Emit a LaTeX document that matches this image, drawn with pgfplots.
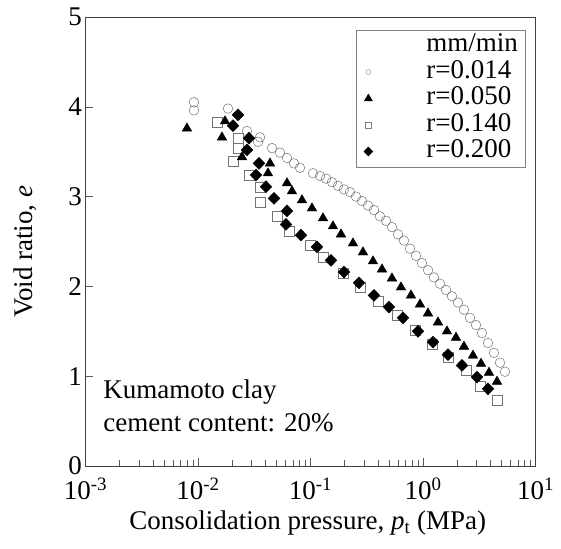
\documentclass[border=0pt]{standalone}
\usepackage{fontspec}
\setmainfont{Liberation Serif}
\usepackage{pgfplots}
\pgfplotsset{compat=1.18}
\usetikzlibrary{calc}

\pgfplotstableread{
x e
0.00921 4.05
0.00921 3.96
0.01848 3.98
0.02727 3.73
0.03415 3.61
0.03557 3.66
0.04548 3.54
0.05356 3.49
0.06183 3.43
0.07134 3.37
0.08067 3.32
0.10525 3.26
0.1214 3.23
0.1373 3.20
0.1553 3.16
0.1756 3.12
0.1985 3.08
0.2244 3.05
0.2537 3.00
0.2869 2.95
0.3244 2.90
0.3667 2.85
0.4147 2.78
0.4690 2.73
0.5302 2.66
0.5995 2.58
0.6779 2.51
0.7663 2.42
0.8666 2.34
0.9797 2.26
1.108 2.18
1.252 2.10
1.416 2.03
1.601 1.96
1.810 1.89
2.047 1.82
2.314 1.74
2.617 1.65
2.959 1.57
3.345 1.48
3.782 1.37
4.276 1.26
4.835 1.15
5.356 1.05
}\rA

\pgfplotstableread{
x e
0.00798 3.76
0.01738 3.84
0.01634 3.66
0.02461 3.44
0.04365 3.37
0.04191 3.26
0.06183 3.15
0.06848 3.06
0.08403 2.96
0.1031 2.87
0.1292 2.76
0.1585 2.67
0.1867 2.58
0.2386 2.48
0.2929 2.38
0.3594 2.28
0.4321 2.19
0.5302 2.09
0.6374 1.99
0.7822 1.90
0.9404 1.80
1.108 1.70
1.359 1.60
1.634 1.50
1.965 1.43
2.314 1.33
2.782 1.23
3.279 1.14
3.861 1.04
4.548 0.94
}\rB

\pgfplotstableread{
x e
0.01475 3.83
0.02268 3.65
0.02268 3.54
0.02047 3.39
0.02840 3.24
0.03557 3.10
0.03557 2.94
0.05037 2.78
0.06441 2.61
0.09899 2.46
0.1292 2.32
0.1945 2.15
0.2754 1.99
0.3981 1.84
0.5874 1.68
0.8490 1.51
1.202 1.36
1.668 1.21
2.411 1.07
3.212 0.89
4.548 0.73
}\rC

\pgfplotstableread{
x e
0.02268 3.91
0.02047 3.79
0.02840 3.65
0.02727 3.52
0.03485 3.37
0.03279 3.24
0.04022 3.11
0.04739 2.98
0.06183 2.84
0.06058 2.69
0.08234 2.57
0.1142 2.44
0.1521 2.29
0.1985 2.16
0.2698 2.04
0.3667 1.90
0.4985 1.77
0.6641 1.65
0.9027 1.50
1.227 1.38
1.668 1.24
2.222 1.12
3.020 0.99
3.782 0.86
}\rD

\begin{document}
\begin{tikzpicture}[font=\fontsize{27bp}{28bp}\selectfont]
\begin{axis}[
  scale only axis, width=450bp, height=449bp,
  xmode=log, xmin=1e-3, xmax=10, ymin=0, ymax=5,
  xtick={0.001,0.01,0.1,1,10},
  xticklabels={10\textsuperscript{-3},10\textsuperscript{-2},10\textsuperscript{-1},10\textsuperscript{0},10\textsuperscript{1}},
  minor xtick={0.002,0.003,0.004,0.005,0.006,0.007,0.008,0.009,0.02,0.03,0.04,0.05,0.06,0.07,0.08,0.09,0.2,0.3,0.4,0.5,0.6,0.7,0.8,0.9,2,3,4,5,6,7,8,9},
  ytick={0,1,2,3,4,5}, yticklabels={0,1,2,3,4,5},
  tick pos=left, tick align=inside,
  major tick length=8bp, minor tick length=6bp,
  axis line style={line width=0.6pt, black!75},
  every tick/.style={black!65, line width=0.5pt},
  every x tick label/.append style={anchor=base, yshift=-34bp},
  xlabel={Consolidation pressure, \textit{p}\textsubscript{t} (MPa)},
  ylabel={Void ratio, \textit{e}},
  xlabel style={at={(axis description cs:0.494,0)}, anchor=base, yshift=-64bp},
  ylabel style={at={(axis description cs:0,0.477)}, anchor=base, yshift=53bp},
  legend style={at={(rel axis cs:0.977,0.971)}, anchor=north east, draw=black!50, line width=0.5pt, fill=white,
    inner xsep=5bp, inner ysep=2bp, row sep=0bp,
    nodes={inner xsep=2bp, inner ysep=0.5bp, text height=19bp, text depth=6.5bp},
    cells={anchor=west}},
  legend image code/.code={\path[draw=none,fill=none] (0bp,-4bp) rectangle (63bp,4bp); \draw[#1] plot coordinates {(7bp,0bp)};},
]
\addplot[forget plot, only marks, mark=o, mark size=4.8bp, draw=black!55, line width=0.5pt] table[x=x,y=e] {\rA};
\addplot[forget plot, only marks, mark=square, mark size=5bp, draw=black!55, line width=0.5pt] table[x=x,y=e] {\rC};
\addplot[forget plot, only marks, mark=triangle*, mark size=5.5bp, black, fill=black] table[x=x,y=e] {\rB};
\addplot[forget plot, only marks, mark=diamond*, mark size=6bp, mark options={xscale=1.3}, black, fill=black] table[x=x,y=e] {\rD};

\addlegendimage{empty legend}\addlegendentry{mm/min}
\addlegendimage{only marks, mark=o, mark size=2.5bp, draw=black!50, line width=0.4pt}\addlegendentry{r=0.014}
\addlegendimage{only marks, mark=triangle*, mark size=4.5bp, black, fill=black}\addlegendentry{r=0.050}
\addlegendimage{only marks, mark=square, mark size=3bp, draw=black!50, line width=0.4pt}\addlegendentry{r=0.140}
\addlegendimage{only marks, mark=diamond*, mark size=4.5bp, mark options={xscale=1.3}, black, fill=black}\addlegendentry{r=0.200}

\node[anchor=base west] at (rel axis cs:0.032,0.151) {Kumamoto clay};
\node[anchor=base west] at (rel axis cs:0.032,0.076) {cement content: 20\%};
\end{axis}
\pgfresetboundingbox
\path ($(current axis.south west)+(-85.5bp,-83bp)$) rectangle ($(current axis.north east)+(25.5bp,17bp)$);
\end{tikzpicture}
\end{document}
